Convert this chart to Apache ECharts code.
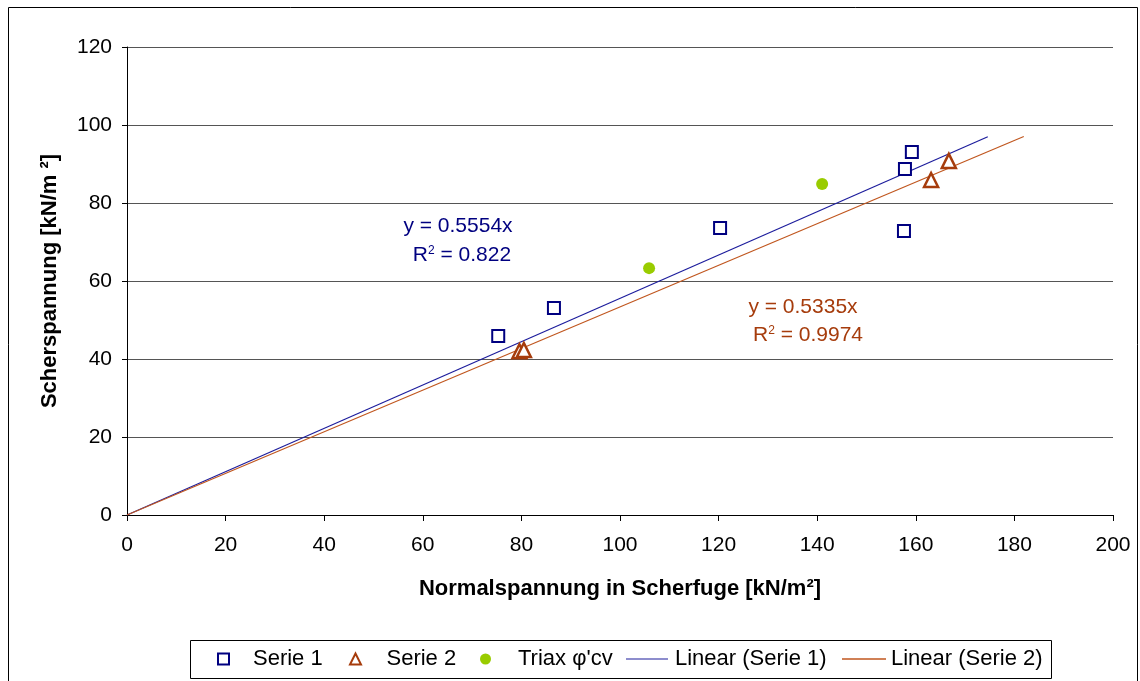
<!DOCTYPE html>
<html>
<head>
<meta charset="utf-8">
<script src="https://cdn.jsdelivr.net/npm/echarts@6/dist/echarts.min.js"></script>
<style>
  html, body { margin: 0; padding: 0; background: #fff; }
  #chart { width: 1140px; height: 681px; }
</style>
</head>
<body>
<div id="chart"></div>
<script>
// Serie 1 (Quadrate)
const serie1 = [[75.3, 45.9], [86.6, 53.1], [120.3, 73.6], [157.8, 88.7], [159.2, 93.1], [157.6, 72.8]];
// Serie 2 (Dreiecke)
const serie2 = [[79.6, 42.0], [80.5, 42.3], [163.1, 85.9], [166.7, 90.8]];
// Triax φ'cv
const triax = [[105.9, 63.3], [141.0, 84.9]];
// Trendlinien (durch Ursprung)
const slope1 = 0.5554;
const slope2 = 0.5335;
const trendEnd1 = 174.6;
const trendEnd2 = 181.9;
const xTicks = [0, 20, 40, 60, 80, 100, 120, 140, 160, 180, 200];
const yTicks = [0, 20, 40, 60, 80, 100, 120];

const FONT = "Liberation Sans, Arial, sans-serif";
const BLUE = "#1c1c9c";
const NAVY = "#000080";
const BROWN = "#a63c0c";
const ORANGE = "#c0561e";
const GREEN = "#99cc00";

const trend1 = [[0, 0], [trendEnd1, +(slope1 * trendEnd1).toFixed(2)]];
const trend2 = [[0, 0], [trendEnd2, +(slope2 * trendEnd2).toFixed(2)]];

// Legendensymbole
const ICON_SQUARE = "path://M0,0H10V10H0Z";
const ICON_TRIANGLE = "path://M5,0L10,10L0,10Z";
const ICON_LINE = "path://M0,0H42V1.2H0Z";

// ein Legendeneintrag pro Komponente, damit die Abstände wie im Original sind
const legendItem = (left, w, textPad, entry) => ({
  top: 648,
  left: left,
  padding: 0,
  itemWidth: w,
  itemHeight: 11,
  symbolKeepAspect: true,
  textStyle: { fontSize: 22, color: "#000", fontFamily: FONT, padding: [0, 0, 0, textPad] },
  data: [entry],
});

const chart = echarts.init(document.getElementById("chart"));

const option = {
  backgroundColor: "#fff",
  animation: false,
  textStyle: { fontFamily: FONT },
  grid: { left: 127, right: 27, top: 47, bottom: 166 },
  xAxis: {
    type: "value",
    min: xTicks[0],
    max: xTicks[xTicks.length - 1],
    interval: 20,
    name: "Normalspannung in Scherfuge [kN/m²]",
    nameLocation: "middle",
    nameGap: 63,
    nameTextStyle: { fontSize: 22, fontWeight: "bold", color: "#000", fontFamily: FONT },
    axisLine: { lineStyle: { color: "#000", width: 1 } },
    axisTick: { show: true, inside: false, length: 6, lineStyle: { color: "#000" } },
    axisLabel: { fontSize: 21, color: "#000", margin: 20 },
    splitLine: { show: false },
  },
  yAxis: {
    type: "value",
    min: yTicks[0],
    max: yTicks[yTicks.length - 1],
    interval: 20,
    name: "Scherspannung [kN/m ²]",
    nameLocation: "middle",
    nameGap: 66,
    nameTextStyle: { fontSize: 22, fontWeight: "bold", color: "#000", fontFamily: FONT },
    axisLine: { show: true, lineStyle: { color: "#000", width: 1 } },
    axisTick: { show: true, inside: false, length: 5, lineStyle: { color: "#000" } },
    axisLabel: { fontSize: 21, color: "#000", margin: 15 },
    splitLine: { show: true, lineStyle: { color: "#555", width: 1 } },
  },
  legend: [
    legendItem(217, 11, 19, { name: "Serie 1", icon: ICON_SQUARE, itemStyle: { color: "#fff", borderColor: NAVY, borderWidth: 2 } }),
    legendItem(349, 12, 20, { name: "Serie 2", icon: ICON_TRIANGLE, itemStyle: { color: "#fff", borderColor: BROWN, borderWidth: 2 } }),
    legendItem(480, 11, 22, { name: "Triax φ'cv", icon: "circle", itemStyle: { color: GREEN } }),
    legendItem(626, 42, 2, { name: "Linear (Serie 1)", icon: ICON_LINE, itemStyle: { color: BLUE } }),
    legendItem(842, 44, 0, { name: "Linear (Serie 2)", icon: ICON_LINE, itemStyle: { color: ORANGE } }),
  ],
  series: [
    {
      name: "Serie 1",
      type: "scatter",
      symbol: "rect",
      symbolSize: 12,
      itemStyle: { color: "#fff", borderColor: NAVY, borderWidth: 2, opacity: 1 },
      data: serie1,
      z: 5,
    },
    {
      name: "Serie 2",
      type: "scatter",
      symbol: "triangle",
      symbolSize: 14,
      itemStyle: { color: "#fff", borderColor: BROWN, borderWidth: 2.5, opacity: 1 },
      data: serie2,
      z: 5,
    },
    {
      name: "Triax φ'cv",
      type: "scatter",
      symbol: "circle",
      symbolSize: 12,
      itemStyle: { color: GREEN, opacity: 1 },
      data: triax,
      z: 5,
    },
    {
      name: "Linear (Serie 1)",
      type: "line",
      showSymbol: false,
      symbol: "none",
      lineStyle: { color: BLUE, width: 1.2 },
      itemStyle: { color: BLUE },
      data: trend1,
      z: 3,
    },
    {
      name: "Linear (Serie 2)",
      type: "line",
      showSymbol: false,
      symbol: "none",
      lineStyle: { color: ORANGE, width: 1.2 },
      itemStyle: { color: ORANGE },
      data: trend2,
      z: 3,
    },
  ],
  graphic: [
    {
      type: "rect",
      shape: { x: 8.5, y: 7.5, width: 1129, height: 700 },
      style: { fill: null, stroke: "#000", lineWidth: 1 },
      silent: true,
      z: -1,
    },
    {
      // Rahmen der Legende
      type: "rect",
      shape: { x: 190.5, y: 640.5, width: 861, height: 38 },
      style: { fill: null, stroke: "#000", lineWidth: 1 },
      silent: true,
    },
    {
      type: "text",
      x: 458, y: 226,
      style: {
        text: "y = 0.5554x",
        fill: NAVY, font: "21px " + FONT, align: "center", verticalAlign: "middle",
      },
    },
    {
      type: "text",
      x: 462, y: 255,
      style: {
        text: "{b|R}{s|2}{b| = 0.822}",
        fill: NAVY, align: "center", verticalAlign: "middle",
        rich: {
          b: { fontSize: 21, fontFamily: FONT, fill: NAVY },
          s: { fontSize: 12, fontFamily: FONT, fill: NAVY, verticalAlign: "top", padding: [0, 0, 9, 0] },
        },
      },
    },
    {
      type: "text",
      x: 803, y: 307,
      style: {
        text: "y = 0.5335x",
        fill: BROWN, font: "21px " + FONT, align: "center", verticalAlign: "middle",
      },
    },
    {
      type: "text",
      x: 808, y: 335,
      style: {
        text: "{b|R}{s|2}{b| = 0.9974}",
        fill: BROWN, align: "center", verticalAlign: "middle",
        rich: {
          b: { fontSize: 21, fontFamily: FONT, fill: BROWN },
          s: { fontSize: 12, fontFamily: FONT, fill: BROWN, verticalAlign: "top", padding: [0, 0, 9, 0] },
        },
      },
    },
  ],
};

chart.setOption(option);
</script>
</body>
</html>
